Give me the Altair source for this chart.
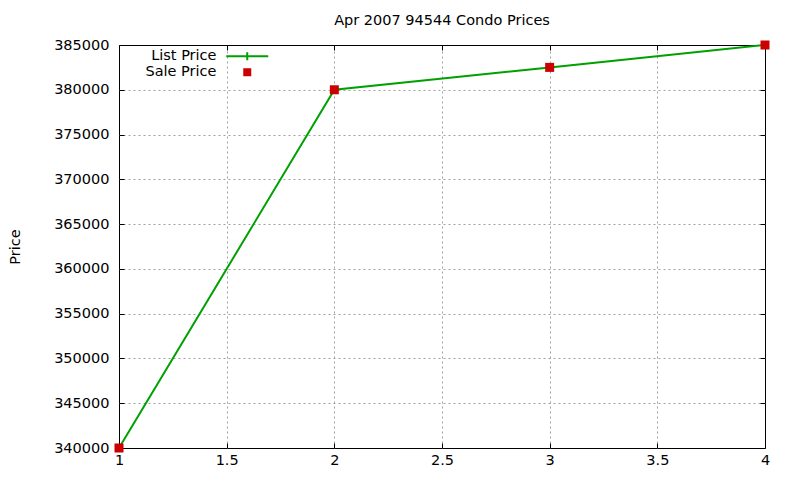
import altair as alt
import pandas as pd

# ---- data ----
x_vals = [1, 2, 3, 4]
list_price = [340000, 380000, 382500, 385000]
sale_price = [340000, 380000, 382500, 385000]
series_names = ["List Price", "Sale Price"]
series_colors = ["#00a000", "#cc0000"]
x_ticks = [1, 1.5, 2, 2.5, 3, 3.5, 4]
y_ticks = [340000, 345000, 350000, 355000, 360000, 365000, 370000, 375000, 380000, 385000]
title_text = "Apr 2007 94544 Condo Prices"
y_title = "Price"

rows = []
for xv, lp, sp in zip(x_vals, list_price, sale_price):
    rows.append({"x": xv, "price": lp, "series": series_names[0]})
    rows.append({"x": xv, "price": sp, "series": series_names[1]})
df = pd.DataFrame(rows)

FONT = "DejaVu Sans"
FS = 14.5

xscale = alt.Scale(domain=[x_ticks[0], x_ticks[-1]], nice=False, zero=False)
yscale = alt.Scale(domain=[y_ticks[0], y_ticks[-1]], nice=False, zero=False)
color_scale = alt.Scale(domain=series_names, range=series_colors)

label_x_axis = alt.Axis(values=x_ticks, format="~g", tickSize=0, labelPadding=5,
                        domain=False, grid=False, title=None, labelFont=FONT,
                        labelFontSize=FS, labelColor="black", labelFlush=False,
                        labelOverlap=False)
label_y_axis = alt.Axis(values=y_ticks, format="d", tickSize=0, labelPadding=10,
                        domain=False, grid=False, title=y_title, titleFont=FONT,
                        titleFontSize=FS, titleFontWeight="normal", titleColor="black",
                        titleAngle=270, titleX=-104, titleY=201.5, titleAlign="center",
                        titleBaseline="middle", labelFont=FONT, labelFontSize=FS,
                        labelColor="black", labelFlush=False, labelOverlap=False)


def tick_axis(orient, values, grid):
    return alt.Axis(orient=orient, values=values, offset=-5, tickSize=5,
                    tickColor="black", tickWidth=1, labels=False, domain=False,
                    title=None, grid=grid, gridColor="#a0a0a0", gridDash=[2, 3],
                    gridWidth=1)


base = alt.Chart(df)

line = base.transform_filter(alt.datum.series == series_names[0]).mark_line(
    strokeWidth=2, color=series_colors[0]
).encode(
    x=alt.X("x:Q", scale=xscale, axis=label_x_axis),
    y=alt.Y("price:Q", scale=yscale, axis=label_y_axis),
)

legend = alt.Legend(
    title=None, orient="none", legendX=121, legendY=4,
    labelFont=FONT, labelFontSize=FS, labelColor="black",
    labelAlign="right", labelOffset={"expr": "-38"},
    symbolType={"expr": "datum.value == 'List Price' ? 'M-5.25,0L5.25,0M0,-1L0,1' : 'square'"},
    symbolSize=64,
    symbolStrokeColor={"expr": "datum.value == 'List Price' ? '#00a000' : 'transparent'"},
    symbolStrokeWidth=2, symbolOpacity=1, rowPadding={"expr": "-1.5"}, padding=0,
)

squares = base.transform_filter(alt.datum.series == series_names[1]).mark_square(
    size=81, opacity=1
).encode(
    x=alt.X("x:Q", scale=xscale, axis=tick_axis("bottom", x_ticks, False)),
    y=alt.Y("price:Q", scale=yscale, axis=tick_axis("left", y_ticks, False)),
    color=alt.Color("series:N", scale=color_scale, legend=legend),
)

ghost = base.transform_filter(alt.datum.series == series_names[0]).mark_point(
    opacity=0
).encode(
    x=alt.X("x:Q", scale=xscale, axis=tick_axis("top", x_ticks[1:-1], True)),
    y=alt.Y("price:Q", scale=yscale, axis=tick_axis("right", y_ticks[1:-1], True)),
)

chart = alt.layer(ghost, line, squares).resolve_axis(
    x="independent", y="independent"
).properties(
    width=646, height=403,
    title=alt.TitleParams(title_text, font=FONT, fontSize=FS, fontWeight="normal",
                          color="black", anchor="middle", offset=9, frame="group"),
    autosize=alt.AutoSizeParams(type="none"),
    padding={"left": 111, "top": 37, "right": 27, "bottom": 24},
    background="white",
).configure_view(stroke="black", strokeWidth=1)

chart.save("out.html", embed_options={"renderer": "svg", "actions": False})
